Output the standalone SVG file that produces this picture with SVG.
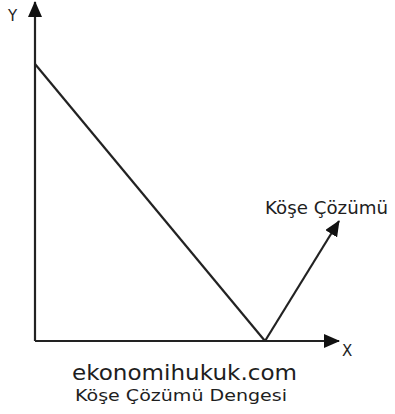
<svg xmlns="http://www.w3.org/2000/svg" width="395" height="414" viewBox="0 0 395 414">
<style>
.ln{stroke:#222;stroke-width:2.2;fill:none}
.t{font-family:"DejaVu Sans","Liberation Sans",sans-serif;fill:#1e1e1e}
</style>
<defs>
<marker id="ax" markerWidth="16" markerHeight="14" refX="15" refY="7" orient="auto" markerUnits="userSpaceOnUse">
<path d="M0,0 L16,7 L0,14 Z" fill="#111"/>
</marker>
</defs>
<rect width="395" height="414" fill="#fff"/>
<g id="connectors">
<path class="ln" d="M35,341 L35,2" marker-end="url(#ax)"/>
<path class="ln" d="M35,341 L339,341" marker-end="url(#ax)"/>
<path class="ln" d="M35,64 L265,341"/>
<path class="ln" d="M265,341 L339,221" marker-end="url(#ax)"/>
</g>
<g id="labels">
<text class="t" x="8" y="21" font-size="15">Y</text>
<text class="t" x="342" y="356" font-size="15">X</text>
<text class="t" x="265" y="214" font-size="17.5" textLength="123" lengthAdjust="spacingAndGlyphs">Köşe Çözümü</text>
<text class="t" x="72" y="380" font-size="21" textLength="225" lengthAdjust="spacingAndGlyphs">ekonomihukuk.com</text>
<text class="t" x="75" y="401" font-size="16" textLength="212" lengthAdjust="spacingAndGlyphs">Köşe Çözümü Dengesi</text>
</g>
</svg>
